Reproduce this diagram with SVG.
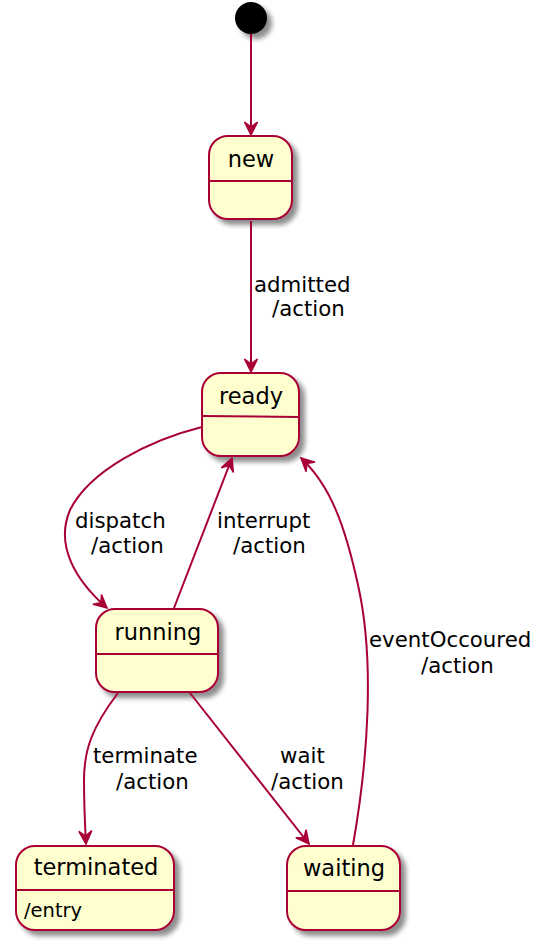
<svg xmlns="http://www.w3.org/2000/svg" width="548" height="944" viewBox="0 0 548 944">
<defs>
<filter id="sh" x="-20%" y="-20%" width="150%" height="150%">
<feGaussianBlur in="SourceAlpha" stdDeviation="2.5"/>
<feOffset dx="5" dy="5" result="b"/>
<feComponentTransfer><feFuncA type="linear" slope="0.45"/></feComponentTransfer>
<feMerge><feMergeNode/><feMergeNode in="SourceGraphic"/></feMerge>
</filter>
<marker id="ah" markerUnits="userSpaceOnUse" viewBox="-15 -8 17 16" refX="0" refY="0" markerWidth="17" markerHeight="16" orient="auto">
<path d="M0,0 L-13,-6.5 L-8,0 L-13,6.5 Z" fill="#A80036" stroke="#A80036" stroke-width="1.5" stroke-linejoin="miter"/>
</marker>
</defs>
<style>
.st{fill:#FEFECE;stroke:#A80036;stroke-width:2;filter:url(#sh)}
.dv{stroke:#A80036;stroke-width:2;fill:none}
.e{stroke:#A80036;stroke-width:2;fill:none;marker-end:url(#ah)}
.t{font-family:"DejaVu Sans",sans-serif;font-size:22.5px;fill:#000;text-anchor:middle}
.l{font-family:"DejaVu Sans",sans-serif;font-size:21.3px;fill:#000}
.s{font-family:"DejaVu Sans",sans-serif;font-size:19.5px;fill:#000}
</style>
<rect width="548" height="944" fill="#FFFFFF"/>
<g id="start"><circle cx="251" cy="18" r="16" fill="#000" filter="url(#sh)"/></g>
<g id="new">
<rect class="st" x="209" y="136" width="83" height="83" rx="19" ry="19"/>
<line class="dv" x1="209" y1="181" x2="292" y2="181"/>
<text class="t" x="251" y="167">new</text>
</g>
<g id="ready">
<rect class="st" x="202" y="373" width="97" height="83" rx="19" ry="19"/>
<line class="dv" x1="202" y1="416" x2="299" y2="417"/>
<text class="t" x="251" y="404">ready</text>
</g>
<g id="running">
<rect class="st" x="96" y="609" width="122" height="83" rx="19" ry="19"/>
<line class="dv" x1="96" y1="654" x2="218" y2="654"/>
<text class="t" x="158" y="640">running</text>
</g>
<g id="terminated">
<rect class="st" x="16" y="846" width="158" height="84" rx="19" ry="19"/>
<line class="dv" x1="16" y1="890" x2="174" y2="890"/>
<text class="t" x="96" y="875">terminated</text>
<text class="s" x="24" y="917">/entry</text>
</g>
<g id="waiting">
<rect class="st" x="287" y="846" width="113" height="84" rx="19" ry="19"/>
<line class="dv" x1="287" y1="891" x2="400" y2="891"/>
<text class="t" x="344" y="876">waiting</text>
</g>
<g id="connectors">
<path class="e" d="M251,34 L251,135"/>
<path class="e" d="M251,221 L251,372"/>
<path class="e" d="M202,427 C150,440 90,470 70,510 C55,545 75,580 107,608"/>
<path class="e" d="M174,608 L232,458"/>
<path class="e" d="M118,693 C92,727 84,750 84,780 C84,805 85,825 86,844"/>
<path class="e" d="M190,693 L309,844"/>
<path class="e" d="M353,845 C368,760 375,660 358,585 C345,525 330,485 301,458"/>
<text class="l" x="254" y="292">admitted</text>
<text class="l" x="272" y="316">/action</text>
<text class="l" x="75" y="528">dispatch</text>
<text class="l" x="91" y="553">/action</text>
<text class="l" x="217" y="528">interrupt</text>
<text class="l" x="233" y="553">/action</text>
<text class="l" x="93" y="763">terminate</text>
<text class="l" x="116" y="789">/action</text>
<text class="l" x="280" y="763">wait</text>
<text class="l" x="271" y="789">/action</text>
<text class="l" x="369" y="647">eventOccoured</text>
<text class="l" x="421" y="673">/action</text>
</g>
</svg>
